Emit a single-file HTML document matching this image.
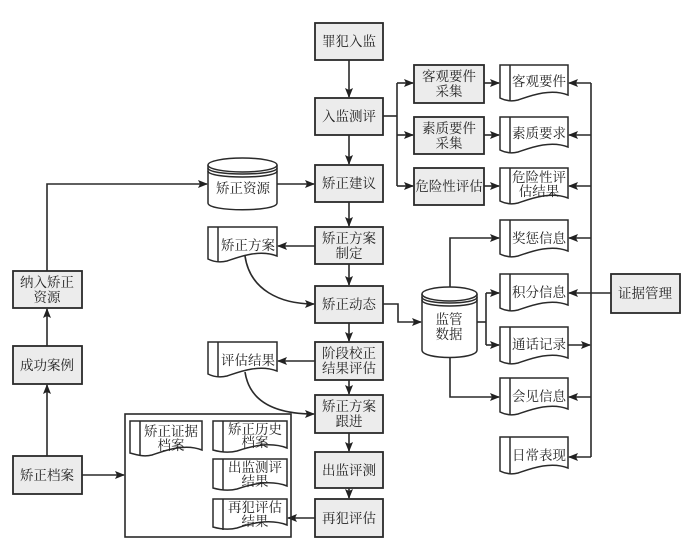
<!DOCTYPE html>
<html><head><meta charset="utf-8"><style>
html,body{margin:0;padding:0;background:#fff;}
svg{display:block;}
text{font-family:"Liberation Serif","Noto Serif CJK SC",serif;font-size:13.5px;fill:#222;text-anchor:middle;}
</style></head><body>
<svg width="694" height="547" viewBox="0 0 694 547" xmlns="http://www.w3.org/2000/svg">
<defs>
<marker id="a" markerWidth="10" markerHeight="8" refX="9" refY="4" orient="auto" markerUnits="userSpaceOnUse">
<path d="M0,0 L10,4 L0,8 L2,4 z" fill="#222"/></marker>
</defs>
<g stroke="#2a2a2a" stroke-width="1.6" fill="none">
<!-- main column arrows -->
<line x1="349" y1="60" x2="349" y2="97" marker-end="url(#a)"/>
<line x1="349" y1="135" x2="349" y2="164" marker-end="url(#a)"/>
<line x1="349" y1="202" x2="349" y2="226" marker-end="url(#a)"/>
<line x1="349" y1="264" x2="349" y2="285" marker-end="url(#a)"/>
<line x1="349" y1="323" x2="349" y2="341" marker-end="url(#a)"/>
<line x1="349" y1="380" x2="349" y2="394" marker-end="url(#a)"/>
<line x1="349" y1="433" x2="349" y2="451" marker-end="url(#a)"/>
<line x1="349" y1="488" x2="349" y2="498" marker-end="url(#a)"/>
<!-- branch -->
<polyline points="383,116 397,116"/>
<line x1="397" y1="83" x2="397" y2="186"/>
<line x1="397" y1="83" x2="413" y2="83" marker-end="url(#a)"/>
<line x1="397" y1="135" x2="413" y2="135" marker-end="url(#a)"/>
<line x1="397" y1="186" x2="413" y2="186" marker-end="url(#a)"/>
<line x1="484" y1="83" x2="499" y2="83" marker-end="url(#a)"/>
<line x1="484" y1="135" x2="499" y2="135" marker-end="url(#a)"/>
<line x1="484" y1="186" x2="499" y2="186" marker-end="url(#a)"/>
<!-- right bus -->
<line x1="591" y1="83" x2="591" y2="457"/>
<line x1="591" y1="83" x2="569" y2="83" marker-end="url(#a)"/>
<line x1="591" y1="135" x2="569" y2="135" marker-end="url(#a)"/>
<line x1="591" y1="186" x2="569" y2="186" marker-end="url(#a)"/>
<line x1="591" y1="238" x2="569" y2="238" marker-end="url(#a)"/>
<line x1="611" y1="293" x2="569" y2="293" marker-end="url(#a)"/>
<line x1="568" y1="345" x2="590" y2="345" marker-end="url(#a)"/>
<line x1="591" y1="397" x2="569" y2="397" marker-end="url(#a)"/>
<line x1="591" y1="457" x2="569" y2="457" marker-end="url(#a)"/>
<!-- supervision data -->
<polyline points="450,289 450,238 499,238" marker-end="url(#a)"/>
<polyline points="450,357 450,397 499,397" marker-end="url(#a)"/>
<polyline points="477,322 486,322"/>
<line x1="486" y1="293" x2="486" y2="345"/>
<line x1="486" y1="293" x2="499" y2="293" marker-end="url(#a)"/>
<line x1="486" y1="345" x2="499" y2="345" marker-end="url(#a)"/>
<polyline points="383,304 398,304 398,322 421,322" marker-end="url(#a)"/>
<!-- left -->
<line x1="277" y1="184" x2="314" y2="184" marker-end="url(#a)"/>
<polyline points="47,271 47,184 207,184" marker-end="url(#a)"/>
<line x1="47" y1="346" x2="47" y2="309" marker-end="url(#a)"/>
<line x1="47" y1="456" x2="47" y2="385" marker-end="url(#a)"/>
<line x1="82" y1="475" x2="124" y2="475" marker-end="url(#a)"/>
<line x1="315" y1="246" x2="278" y2="246" marker-end="url(#a)"/>
<line x1="315" y1="361" x2="278" y2="361" marker-end="url(#a)"/>
<line x1="315" y1="518" x2="288" y2="518" marker-end="url(#a)"/>
<path d="M245,256 C250,290 280,304 314,304" marker-end="url(#a)"/>
<path d="M245,372 C250,405 280,414 314,414" marker-end="url(#a)"/>
<rect x="125" y="414" width="166" height="123"/>
</g>
<g stroke="#2a2a2a" stroke-width="1.8" fill="#ececec">
<rect x="315" y="23" width="68" height="37"/>
<rect x="315" y="98" width="68" height="37"/>
<rect x="315" y="165" width="68" height="37"/>
<rect x="315" y="227" width="68" height="37"/>
<rect x="315" y="286" width="68" height="37"/>
<rect x="315" y="342" width="68" height="38"/>
<rect x="315" y="395" width="68" height="38"/>
<rect x="315" y="452" width="68" height="36"/>
<rect x="315" y="499" width="68" height="38"/>
<rect x="414" y="65" width="70" height="38"/>
<rect x="414" y="117" width="70" height="37"/>
<rect x="414" y="168" width="70" height="37"/>
<rect x="611" y="274" width="69" height="39"/>
<rect x="13" y="271" width="69" height="37"/>
<rect x="13" y="346" width="69" height="38"/>
<rect x="13" y="456" width="69" height="38"/>
</g>
<!-- documents -->
<g stroke="#2a2a2a" stroke-width="1.5" fill="#fff">
<path d="M500,65 H568 V95 C550,88 530,96 518,100 C510,102 504,100 500,98 Z"/><line x1="510" y1="65" x2="510" y2="101" stroke="#2a2a2a"/>
<path d="M500,117 H568 V147 C550,140 530,148 518,152 C510,154 504,152 500,150 Z"/><line x1="510" y1="117" x2="510" y2="153"/>
<path d="M500,168 H568 V198 C550,191 530,199 518,203 C510,205 504,203 500,201 Z"/><line x1="510" y1="168" x2="510" y2="204"/>
<path d="M500,220 H568 V251 C550,244 530,252 518,256 C510,258 504,256 500,254 Z"/><line x1="510" y1="220" x2="510" y2="257"/>
<path d="M500,274 H568 V305 C550,298 530,306 518,310 C510,312 504,310 500,308 Z"/><line x1="510" y1="274" x2="510" y2="311"/>
<path d="M500,327 H568 V358 C550,351 530,359 518,363 C510,365 504,363 500,361 Z"/><line x1="510" y1="327" x2="510" y2="364"/>
<path d="M500,378 H568 V409 C550,402 530,410 518,414 C510,416 504,414 500,412 Z"/><line x1="510" y1="378" x2="510" y2="415"/>
<path d="M500,437 H568 V468 C550,461 530,469 518,473 C510,475 504,473 500,471 Z"/><line x1="510" y1="437" x2="510" y2="474"/>
<path d="M208,227 H277 V256 C259,249 239,257 227,261 C219,263 212,261 208,259 Z"/><line x1="218" y1="227" x2="218" y2="262"/>
<path d="M208,342 H277 V371 C259,364 239,372 227,376 C219,378 212,376 208,374 Z"/><line x1="218" y1="342" x2="218" y2="377"/>
<path d="M130,421 H202 V450 C184,443 164,451 152,455 C144,457 137,455 130,453 Z"/><line x1="140" y1="421" x2="140" y2="456"/>
<path d="M213,421 H287 V448 C269,441 249,447 237,451 C229,453 220,452 213,450 Z"/><line x1="223" y1="421" x2="223" y2="452"/>
<path d="M213,459 H287 V486 C269,479 249,485 237,489 C229,491 220,490 213,488 Z"/><line x1="223" y1="459" x2="223" y2="490"/>
<path d="M213,499 H287 V525 C269,518 249,524 237,528 C229,530 220,529 213,527 Z"/><line x1="223" y1="499" x2="223" y2="530"/>
<!-- cylinders -->
<path d="M208,165 V203 C208,212 277,212 277,203 V165"/>
<ellipse cx="242.5" cy="165" rx="34.5" ry="7"/>
<path d="M208,168 C208,176 277,176 277,168" fill="none"/>
<path d="M208,171 C208,179 277,179 277,171" fill="none"/>
<path d="M422,294 V350 C422,360 477,360 477,350 V294"/>
<ellipse cx="449.5" cy="294" rx="27.5" ry="7"/>
<path d="M422,297 C422,305 477,305 477,297" fill="none"/>
<path d="M422,300 C422,308 477,308 477,300" fill="none"/>
</g>
<g>
<text x="349" y="46">罪犯入监</text>
<text x="349" y="121">入监测评</text>
<text x="349" y="188">矫正建议</text>
<text x="349" y="243">矫正方案</text><text x="349" y="258">制定</text>
<text x="349" y="309">矫正动态</text>
<text x="349" y="358">阶段校正</text><text x="349" y="373">结果评估</text>
<text x="349" y="411">矫正方案</text><text x="349" y="426">跟进</text>
<text x="349" y="475">出监评测</text>
<text x="349" y="523">再犯评估</text>
<text x="449" y="81">客观要件</text><text x="449" y="96">采集</text>
<text x="449" y="133">素质要件</text><text x="449" y="148">采集</text>
<text x="449" y="191">危险性评估</text>
<text x="539" y="86">客观要件</text>
<text x="539" y="138">素质要求</text>
<text x="539" y="182">危险性评</text><text x="539" y="196">估结果</text>
<text x="539" y="243">奖惩信息</text>
<text x="539" y="297">积分信息</text>
<text x="539" y="349">通话记录</text>
<text x="539" y="401">会见信息</text>
<text x="539" y="460">日常表现</text>
<text x="645" y="298">证据管理</text>
<text x="449" y="324">监管</text><text x="449" y="339">数据</text>
<text x="243" y="193">矫正资源</text>
<text x="248" y="250">矫正方案</text>
<text x="248" y="365">评估结果</text>
<text x="47" y="287">纳入矫正</text><text x="47" y="302">资源</text>
<text x="47" y="370">成功案例</text>
<text x="47" y="480">矫正档案</text>
<text x="171" y="436">矫正证据</text><text x="171" y="450">档案</text>
<text x="255" y="434">矫正历史</text><text x="255" y="447">档案</text>
<text x="255" y="472">出监测评</text><text x="255" y="486">结果</text>
<text x="255" y="512">再犯评估</text><text x="255" y="526">结果</text>
</g>
</svg>
</body></html>
